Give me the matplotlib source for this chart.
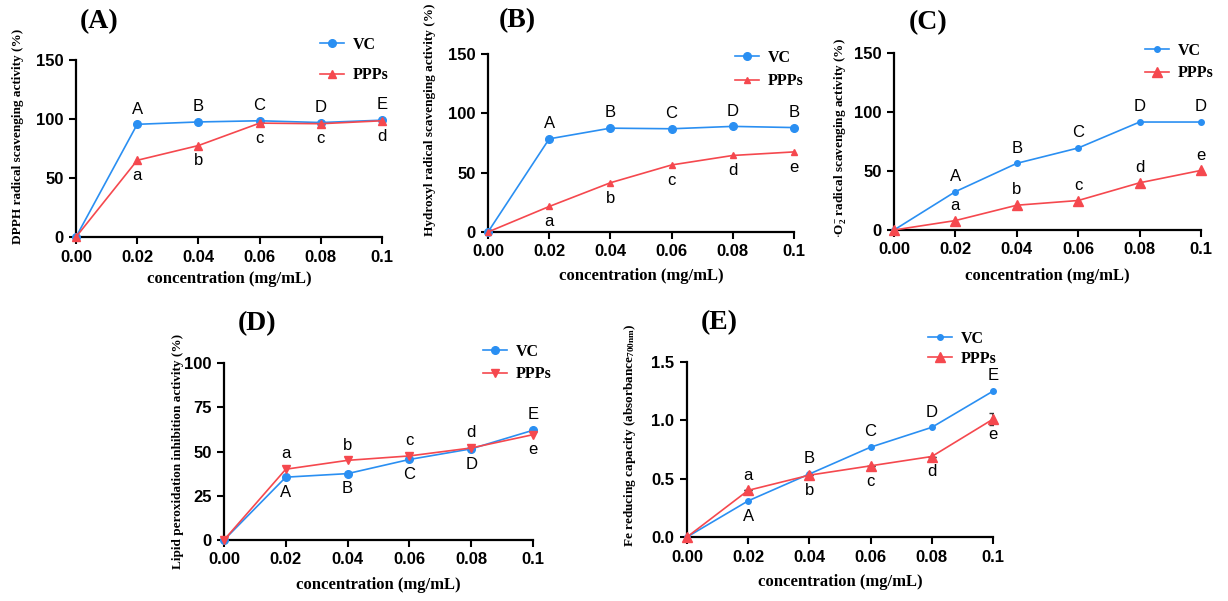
import matplotlib
matplotlib.use('Agg')
import matplotlib.pyplot as plt

plt.rcParams['font.family'] = ['Liberation Sans', 'DejaVu Sans']
plt.rcParams['mathtext.fontset'] = 'custom'
plt.rcParams['mathtext.rm'] = 'Liberation Serif:bold'
plt.rcParams['mathtext.it'] = 'Liberation Serif:bold'
plt.rcParams['mathtext.bf'] = 'Liberation Serif:bold'

BLUE = '#2a8ff2'
RED = '#f5484e'

conc = [0.00, 0.02, 0.04, 0.06, 0.08, 0.10]
xtick_labels = ['0.00', '0.02', '0.04', '0.06', '0.08', '0.1']

# (A) DPPH
dpph_vc = [0, 95.5, 97.5, 98.5, 97.0, 99.0]
dpph_ppp = [0, 65.0, 77.5, 96.5, 96.0, 98.5]
dpph_vc_lab = ['A', 'B', 'C', 'D', 'E']
dpph_ppp_lab = ['a', 'b', 'c', 'c', 'd']

# (B) hydroxyl
oh_vc = [0, 78.5, 87.5, 87.0, 89.0, 88.0]
oh_ppp = [0, 21.5, 41.5, 56.5, 64.5, 67.5]
oh_vc_lab = ['A', 'B', 'C', 'D', 'B']
oh_ppp_lab = ['a', 'b', 'c', 'd', 'e']

# (C) superoxide
o2_vc = [0, 32.5, 56.5, 69.5, 91.5, 91.5]
o2_ppp = [0, 8.0, 21.0, 25.0, 40.0, 50.5]
o2_vc_lab = ['A', 'B', 'C', 'D', 'D']
o2_ppp_lab = ['a', 'b', 'c', 'd', 'e']

# (D) lipid peroxidation
lp_vc = [0, 35.5, 37.5, 45.5, 51.5, 62.0]
lp_ppp = [0, 40.0, 45.0, 47.5, 52.0, 59.5]
lp_vc_lab = ['A', 'B', 'C', 'D', 'E']
lp_ppp_lab = ['a', 'b', 'c', 'd', 'e']

# (E) Fe reducing
fe_vc = [0, 0.31, 0.54, 0.77, 0.94, 1.25]
fe_ppp = [0, 0.40, 0.53, 0.61, 0.69, 1.01]
fe_ppp_err = [0, 0, 0, 0, 0, 0.05]
fe_vc_lab = ['A', 'B', 'C', 'D', 'E']
fe_ppp_lab = ['a', 'b', 'c', 'd', 'e']

W, H = 1228, 601
fig = plt.figure(figsize=(W / 100, H / 100), dpi=100, facecolor='white')


def px_axes(l, t, r, b):
    return fig.add_axes([l / W, 1 - b / H, (r - l) / W, (b - t) / H])


def style(ax, ymax, yticks, ylabel, ylab_xy, xlab_y, title, title_xy):
    ax.set_xlim(0, 0.1)
    ax.set_ylim(0, ymax)
    ax.set_xticks(conc)
    ax.set_xticklabels(xtick_labels)
    ax.set_yticks(yticks)
    for s in ['top', 'right']:
        ax.spines[s].set_visible(False)
    for s in ['left', 'bottom']:
        ax.spines[s].set_linewidth(1.6)
    ax.tick_params(width=1.5, length=5, labelsize=12, pad=4)
    for t in ax.get_xticklabels() + ax.get_yticklabels():
        t.set_fontweight('bold')
    ax.set_ylabel(ylabel, family='Liberation Serif', fontweight='bold', fontsize=9.5)
    ax.yaxis.set_label_coords(*ylab_xy)
    ax.set_xlabel('concentration (mg/mL)', family='Liberation Serif',
                  fontweight='bold', fontsize=12)
    ax.xaxis.set_label_coords(0.5, xlab_y)
    fig.text(title_xy[0] / W, 1 - title_xy[1] / H, title, family='Liberation Serif',
             fontweight='bold', fontsize=20, ha='center', va='center')


def letters(ax, ys, labs, offsets):
    for x, y, lab, off in zip(conc[1:], ys[1:], labs, offsets):
        ax.annotate(lab, (x, y), xytext=(0, off), textcoords='offset points',
                    ha='center', va='center', fontsize=12)


def legend(ax, x, y, spacing):
    ax.legend(loc='upper left', bbox_to_anchor=(x / W, 1 - y / H),
              bbox_transform=fig.transFigure, frameon=False, borderpad=0,
              borderaxespad=0, handlelength=1.5, handletextpad=0.55,
              labelspacing=spacing, prop={'family': 'Liberation Serif',
                                          'weight': 'bold', 'size': 11.5})


# ---------- (A)
ax = px_axes(76, 60, 382, 237)
ax.plot(conc, dpph_vc, '-o', color=BLUE, lw=1.2, ms=5.5, label='VC', clip_on=False, zorder=3)
ax.plot(conc, dpph_ppp, '-^', color=RED, lw=1.2, ms=5.5, label='PPPs', clip_on=False, zorder=3)
letters(ax, dpph_vc, dpph_vc_lab, [11] * 5)
letters(ax, dpph_ppp, dpph_ppp_lab, [-11] * 5)
style(ax, 150, [0, 50, 100, 150], 'DPPH radical scavenging activity (%)', (-0.17, 0.57),
      -0.19, '(A)', (99, 22))
legend(ax, 320, 37, 0.9)

# ---------- (B)
ax = px_axes(488, 54, 794, 232)
ax.plot(conc, oh_vc, '-o', color=BLUE, lw=1.2, ms=5.5, label='VC', clip_on=False, zorder=3)
ax.plot(conc, oh_ppp, '-^', color=RED, lw=1.2, ms=5, label='PPPs', clip_on=False, zorder=3)
letters(ax, oh_vc, oh_vc_lab, [11] * 5)
letters(ax, oh_ppp, oh_ppp_lab, [-11] * 5)
style(ax, 150, [0, 50, 100, 150], 'Hydroxyl radical scavenging activity (%)', (-0.17, 0.63),
      -0.2, '(B)', (517, 21))
legend(ax, 735, 50, 0.45)

# ---------- (C)
ax = px_axes(894, 53, 1201, 230)
ax.plot(conc, o2_vc, '-o', color=BLUE, lw=1.2, ms=4, label='VC', clip_on=False, zorder=3)
ax.plot(conc, o2_ppp, '-^', color=RED, lw=1.2, ms=7, label='PPPs', clip_on=False, zorder=3)
letters(ax, o2_vc, o2_vc_lab, [11] * 5)
letters(ax, o2_ppp, o2_ppp_lab, [11] * 5)
style(ax, 150, [0, 50, 100, 150], r'$\cdot$O$_2^{-}$ radical scavenging activity (%)',
      (-0.15, 0.52), -0.215, '(C)', (928, 23))
legend(ax, 1145, 43, 0.4)

# ---------- (D)
ax = px_axes(224, 363, 533, 540)
ax.plot(conc, lp_vc, '-o', color=BLUE, lw=1.2, ms=5.5, label='VC', clip_on=False, zorder=3)
ax.plot(conc, lp_ppp, '-v', color=RED, lw=1.2, ms=5.5, label='PPPs', clip_on=False, zorder=3)
letters(ax, lp_vc, lp_vc_lab, [-11, -11, -11, -11, 11])
letters(ax, lp_ppp, lp_ppp_lab, [11, 11, 11, 11, -11])
style(ax, 100, [0, 25, 50, 75, 100], 'Lipid peroxidation inhibition activity (%)',
      (-0.13, 0.5), -0.21, '(D)', (257, 324))
legend(ax, 483, 344, 0.4)

# ---------- (E)
ax = px_axes(687, 362, 993, 537)
ax.plot(conc, fe_vc, '-o', color=BLUE, lw=1.2, ms=4, label='VC', clip_on=False, zorder=3)
ax.plot(conc, fe_ppp, '-^', color=RED, lw=1.2, ms=7, label='PPPs', clip_on=False, zorder=3)
ax.errorbar(conc, fe_ppp, yerr=fe_ppp_err, fmt='none', elinewidth=1.2, capsize=3,
            ecolor='#333333', zorder=2)
letters(ax, fe_vc, fe_vc_lab, [-11, 11, 11, 11, 11])
letters(ax, fe_ppp, fe_ppp_lab, [11, -11, -11, -11, -11])
style(ax, 1.5, [0.0, 0.5, 1.0, 1.5], r'Fe reducing capacity (absorbance$_{700nm}$)',
      (-0.16, 0.58), -0.21, '(E)', (719, 323))
legend(ax, 928, 331, 0.25)

fig.savefig('out.png', dpi=100, facecolor='white')
